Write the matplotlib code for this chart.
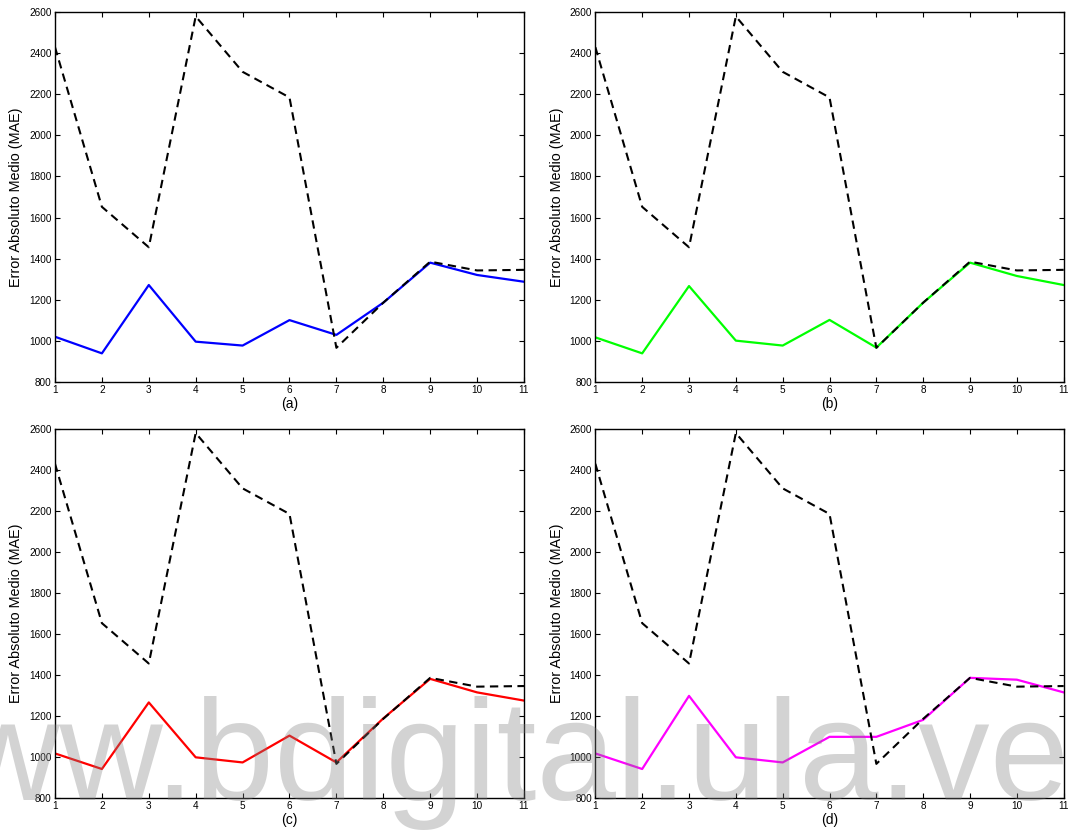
import numpy as np
import matplotlib.pyplot as plt

plt.rcParams['font.family'] = ['Liberation Sans', 'DejaVu Sans']

x = np.arange(1, 12)

# reference curve (dashed, same in every panel)
baseline = [2430, 1652, 1455, 2580, 2310, 2185, 965, 1185, 1385, 1342, 1345]

# compared curves
serie_a = [1019, 938, 1271, 995, 976, 1100, 1028, 1185, 1380, 1320, 1287]
serie_b = [1016, 938, 1266, 1000, 976, 1101, 966, 1185, 1380, 1315, 1271]
serie_c = [1016, 940, 1265, 997, 972, 1103, 972, 1187, 1380, 1314, 1274]
serie_d = [1016, 940, 1297, 997, 972, 1097, 1097, 1180, 1385, 1376, 1314]

series = [serie_a, serie_b, serie_c, serie_d]
colores = ['#0000ff', '#00ff00', '#ff0000', '#ff00ff']
etiquetas = ['(a)', '(b)', '(c)', '(d)']
yticks = list(range(800, 2601, 200))

fig = plt.figure(figsize=(10.7, 8.31), dpi=100)

# axes boxes, MATLAB-like subplot layout
posiciones = [
    [0.0514, 0.5407, 0.4383, 0.4445],
    [0.5564, 0.5407, 0.4377, 0.4445],
    [0.0514, 0.0401, 0.4383, 0.4437],
    [0.5564, 0.0401, 0.4377, 0.4437],
]

for pos, y, c, lab in zip(posiciones, series, colores, etiquetas):
    ax = fig.add_axes(pos)
    ax.plot(x, y, color=c, lw=1.6, zorder=2)
    ax.plot(x, baseline, color='black', lw=1.5, dashes=(4, 2.6), zorder=3)
    ax.set_xlim(1, 11)
    ax.set_ylim(800, 2600)
    ax.set_xticks(x)
    ax.set_yticks(yticks)
    ax.tick_params(direction='in', length=3.6, width=0.8, top=True, right=True,
                   labelsize=7.2, pad=2.5)
    for s in ax.spines.values():
        s.set_linewidth(1.0)
    ax.set_ylabel('Error Absoluto Medio (MAE)', fontsize=10.4, labelpad=4)
    ax.set_xlabel(lab, fontsize=10, labelpad=1)

# watermark
fig.text(-0.137, 0.0373, 'www.bdigital.ula.ve', fontsize=103, color='0.5', alpha=0.34,
         ha='left', va='baseline', zorder=10)

fig.savefig('out.png', dpi=100)
